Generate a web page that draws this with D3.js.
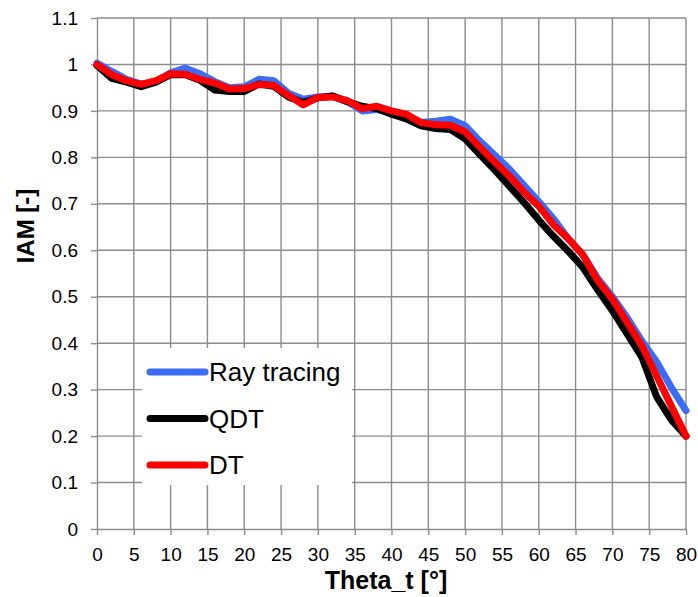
<!DOCTYPE html>
<html>
<head>
<meta charset="utf-8">
<script src="https://cdn.jsdelivr.net/npm/d3@7"></script>
<style>
  body { margin: 0; background: #fff; }
  svg text { font-family: "Liberation Sans", Arial, sans-serif; }
</style>
</head>
<body>
<figure style="margin:0"></figure>
<script>
// incidence angle, degrees
const theta = [0, 2, 4, 6, 8, 10, 12, 14, 16, 18, 20, 22, 24, 26, 28, 30, 32, 34, 36, 38, 40,
    42, 44, 46, 48, 50, 52, 54, 56, 58, 60, 62, 64, 66, 68, 70, 72, 74, 76, 78, 80]
const rayTracing = [1.003, 0.985, 0.968, 0.958, 0.962, 0.982, 0.992, 0.980, 0.963, 0.950, 0.952,
    0.968, 0.965, 0.938, 0.925, 0.930, 0.932, 0.920, 0.900, 0.903, 0.897,
    0.890, 0.875, 0.878, 0.882, 0.868, 0.835, 0.805, 0.775, 0.740, 0.705,
    0.668, 0.625, 0.590, 0.540, 0.500, 0.455, 0.405, 0.360, 0.305, 0.255]
const qdt = [0.998, 0.970, 0.962, 0.952, 0.962, 0.978, 0.978, 0.966, 0.945, 0.942, 0.942,
    0.958, 0.953, 0.930, 0.918, 0.928, 0.932, 0.920, 0.910, 0.905, 0.893,
    0.883, 0.868, 0.862, 0.860, 0.840, 0.806, 0.773, 0.738, 0.703, 0.665,
    0.630, 0.598, 0.563, 0.515, 0.470, 0.420, 0.370, 0.285, 0.235, 0.200]
const dt = [1.000, 0.978, 0.965, 0.957, 0.965, 0.980, 0.979, 0.968, 0.960, 0.947, 0.948,
    0.957, 0.955, 0.933, 0.913, 0.929, 0.930, 0.922, 0.905, 0.910, 0.900,
    0.893, 0.875, 0.870, 0.869, 0.855, 0.822, 0.790, 0.760, 0.725, 0.695,
    0.655, 0.625, 0.590, 0.535, 0.495, 0.445, 0.395, 0.330, 0.265, 0.200]
const seriesNames = ["Ray tracing", "QDT", "DT"]
const seriesColors = ["#3a6cf5", "#000000", "#ff0000"]
const xTicks = d3.range(0, 80 + 1, 5)
const yTicks = d3.range(0, 1.1 + 0.001, 0.1)

const series = [rayTracing, qdt, dt].map((vals, i) => ({
    name: seriesNames[i],
    color: seriesColors[i],
    points: theta.map((t, j) => ({x: t, y: vals[j]}))
}))

const svg = d3.select("figure").append("svg")
    .attr("width", 698).attr("height", 597)
const margin = {top: 18, left: 97, right: 12, bottom: 68}
const width = 698 - margin.left - margin.right,
    height = 597 - margin.top - margin.bottom
const chart = svg.append("g").attr("transform", `translate(${margin.left},${margin.top})`)

const x = d3.scaleLinear().domain([0, 80]).range([0, width])
const y = d3.scaleLinear().domain([0, 1.1]).range([height, 0])

// grid
chart.append("g").selectAll("line.v")
    .data(xTicks.slice(1))
    .enter().append("line")
    .attr("x1", d => x(d)).attr("x2", d => x(d))
    .attr("y1", 0).attr("y2", height)
    .attr("stroke", "#8c8c8c").attr("stroke-width", 1.4)
chart.append("g").selectAll("line.h")
    .data(yTicks.slice(1))
    .enter().append("line")
    .attr("x1", 0).attr("x2", width)
    .attr("y1", d => y(d)).attr("y2", d => y(d))
    .attr("stroke", "#8c8c8c").attr("stroke-width", 1.4)

// axes
const xAxis = chart.append("g").attr("transform", `translate(0,${height})`)
    .call(d3.axisBottom(x).tickValues(xTicks).tickSize(6).tickSizeOuter(0).tickPadding(13))
const yAxis = chart.append("g")
    .call(d3.axisLeft(y).tickValues(yTicks).tickSize(6).tickSizeOuter(0).tickPadding(13)
        .tickFormat(d => d3.format("~g")(+d.toFixed(1))))
for (const ax of [xAxis, yAxis]) {
    ax.selectAll("path, line").attr("stroke", "#8c8c8c").attr("stroke-width", 1.4)
    ax.selectAll("text").attr("fill", "#000").style("font-size", "19px")
        .style("font-family", "'Liberation Sans', Arial, sans-serif")
}

// lines
const line = d3.line().x(d => x(d.x)).y(d => y(d.y))
chart.append("g").selectAll("path.series")
    .data(series)
    .enter().append("path")
    .attr("d", d => line(d.points))
    .attr("fill", "none")
    .attr("stroke", d => d.color)
    .attr("stroke-width", 7)
    .attr("stroke-linejoin", "round")
    .attr("stroke-linecap", "round")

// axis titles
svg.append("text")
    .text("Theta_t [°]")
    .attr("x", 386).attr("y", 589)
    .attr("text-anchor", "middle")
    .style("font-size", "25px").style("font-weight", "bold")
svg.append("text")
    .text("IAM [-]")
    .attr("transform", "translate(34,226) rotate(-90)")
    .attr("text-anchor", "middle")
    .style("font-size", "24px").style("font-weight", "bold")

// legend
const legend = svg.append("g").attr("transform", "translate(142,348)")
legend.append("rect")
    .attr("width", 210).attr("height", 137)
    .attr("fill", "#fff")
const item = legend.selectAll("g.item")
    .data(series)
    .enter().append("g")
    .attr("transform", (_, i) => `translate(0,${24 + i * 46.5})`)
item.append("line")
    .attr("x1", 8).attr("x2", 63)
    .attr("stroke", d => d.color)
    .attr("stroke-width", 7)
    .attr("stroke-linecap", "round")
item.append("text")
    .text(d => d.name)
    .attr("x", 67).attr("y", 9)
    .style("font-size", "26px")
</script>
</body>
</html>
